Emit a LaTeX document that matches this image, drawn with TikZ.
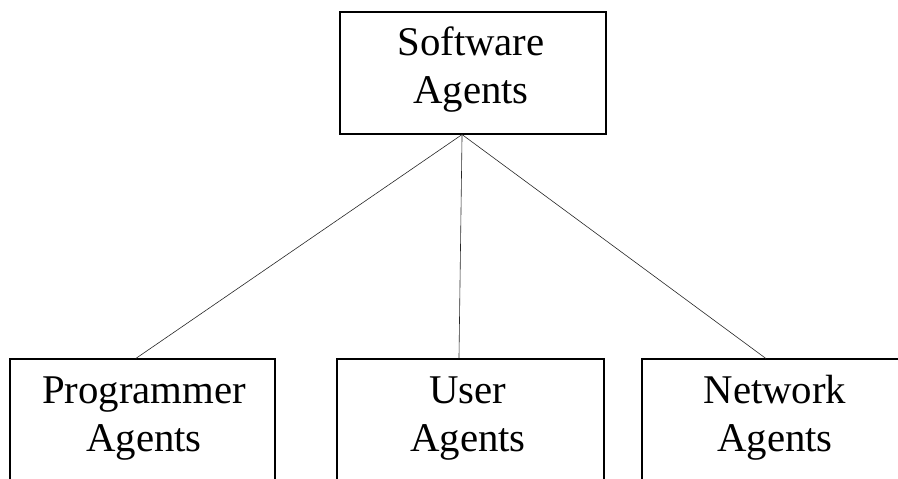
\documentclass[tikz,border=0pt]{standalone}
\usepackage{fontspec}
\setmainfont{Liberation Serif}
\usetikzlibrary{calc}
% fixed-height strut so every first line sits on the same baseline
\newcommand{\firstline}{\rule{0pt}{0.75em}}
\begin{document}
\begin{tikzpicture}[x=1pt, y=-1pt,
  boxframe/.style={draw=black, line width=1.1pt, inner sep=0pt, rectangle},
  caption/.style={font=\fontsize{40.8}{48}\selectfont, align=center, inner sep=0pt, anchor=north},
  link/.style={draw=black!85, line width=0.6pt}]
  \useasboundingbox (0,0) rectangle (898,479);
  \clip (0,0) rectangle (898,479);

  % root box
  \node[boxframe, minimum width=266pt, minimum height=122pt] (sa) at (473,73) {};
  \node[caption] (sa-t) at (471,25) {\firstline Software\\Agents};

  % child boxes (they run past the lower and right edges)
  \node[boxframe, minimum width=265pt, minimum height=170pt] (pa) at (142.5,444) {};
  \node[boxframe, minimum width=267pt, minimum height=170pt] (ua) at (470.5,444) {};
  \node[boxframe, minimum width=267pt, minimum height=170pt] (na) at (775.5,444) {};
  \node[caption] (pa-t) at (144,372.5) {\firstline Programmer\\Agents};
  \node[caption] (ua-t) at (468,372.5) {\firstline User\\Agents};
  \node[caption] (na-t) at (775,372.5) {\firstline Network\\Agents};

  % connectors
  \coordinate (hub) at ($(sa.south west)!0.459!(sa.south east)$);
  \coordinate (pa-in) at ($(pa.north west)!0.475!(pa.north east)$);
  \coordinate (ua-in) at ($(ua.north west)!0.457!(ua.north east)$);
  \coordinate (na-in) at ($(na.north west)!0.464!(na.north east)$);
  \draw[link] (hub) -- (pa-in);
  \draw[link] (hub) -- (ua-in);
  \draw[link] (hub) -- (na-in);
\end{tikzpicture}
\end{document}
